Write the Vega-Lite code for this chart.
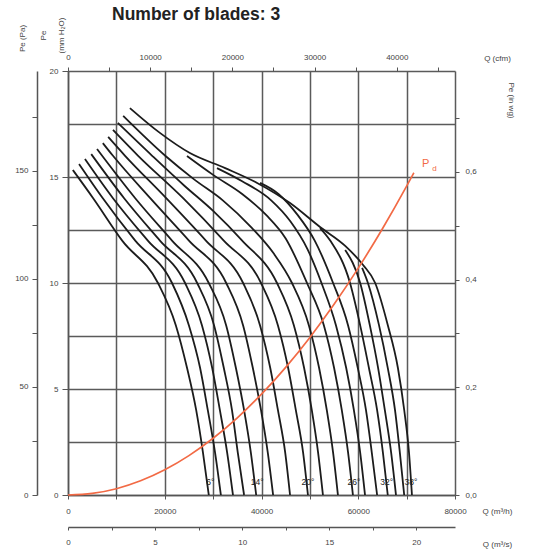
{
"$schema":"https://vega.github.io/schema/vega-lite/v6.json",
"width":387,"height":424,
"autosize":{"type":"none"},
"padding":{"left":68,"top":71,"right":80,"bottom":55},
"title":{"text":"Number of blades: 3","anchor":"start","frame":"group","dx":44,"fontSize":17.5,"fontWeight":"bold","font":"Liberation Sans","color":"#222","offset":-6},
"config":{"view":{"stroke":null},"font":"Liberation Sans",
"axis":{"labelFont":"Liberation Sans","labelFontSize":8,"labelColor":"#444","titleFont":"Liberation Sans","titleFontSize":8,"titleFontWeight":"normal","titleColor":"#444","domainColor":"#555","tickColor":"#555","labelFlush":false,"labelOverlap":false}},
"datasets":{
"curves":[
{"a":6,"q":1000,"p":15.33},{"a":6,"q":5200,"p":14},{"a":6,"q":11200,"p":12},{"a":6,"q":18600,"p":10},{"a":6,"q":22300,"p":8},{"a":6,"q":24600,"p":6},{"a":6,"q":26500,"p":4},{"a":6,"q":27900,"p":2},{"a":6,"q":29100,"p":0},
{"a":8,"q":2300,"p":15.61},{"a":8,"q":7200,"p":14},{"a":8,"q":13900,"p":12},{"a":8,"q":21500,"p":10},{"a":8,"q":25000,"p":8},{"a":8,"q":27300,"p":6},{"a":8,"q":28900,"p":4},{"a":8,"q":30400,"p":2},{"a":8,"q":31600,"p":0},
{"a":10,"q":3500,"p":15.85},{"a":10,"q":9300,"p":14},{"a":10,"q":16500,"p":12},{"a":10,"q":24200,"p":10},{"a":10,"q":27700,"p":8},{"a":10,"q":29800,"p":6},{"a":10,"q":31400,"p":4},{"a":10,"q":32900,"p":2},{"a":10,"q":34100,"p":0},
{"a":12,"q":4800,"p":16.08},{"a":12,"q":11600,"p":14},{"a":12,"q":19000,"p":12},{"a":12,"q":26700,"p":10},{"a":12,"q":30200,"p":8},{"a":12,"q":32200,"p":6},{"a":12,"q":33900,"p":4},{"a":12,"q":35100,"p":2},{"a":12,"q":36400,"p":0},
{"a":14,"q":6000,"p":16.32},{"a":14,"q":13900,"p":14},{"a":14,"q":21500,"p":12},{"a":14,"q":29100,"p":10},{"a":14,"q":32700,"p":8},{"a":14,"q":34700,"p":6},{"a":14,"q":36400,"p":4},{"a":14,"q":37800,"p":2},{"a":14,"q":38900,"p":0},
{"a":16,"q":7200,"p":16.6},{"a":16,"q":9300,"p":16},{"a":16,"q":17000,"p":14},{"a":16,"q":25000,"p":12},{"a":16,"q":32700,"p":10},{"a":16,"q":36200,"p":8},{"a":16,"q":38200,"p":6},{"a":16,"q":39900,"p":4},{"a":16,"q":41300,"p":2},{"a":16,"q":42400,"p":0},
{"a":18,"q":8300,"p":16.89},{"a":18,"q":11800,"p":16},{"a":18,"q":20300,"p":14},{"a":18,"q":28500,"p":12},{"a":18,"q":36200,"p":10},{"a":18,"q":39700,"p":8},{"a":18,"q":41800,"p":6},{"a":18,"q":43400,"p":4},{"a":18,"q":44900,"p":2},{"a":18,"q":45900,"p":0},
{"a":20,"q":9300,"p":17.22},{"a":20,"q":14500,"p":16},{"a":20,"q":23800,"p":14},{"a":20,"q":32200,"p":12},{"a":20,"q":39900,"p":10},{"a":20,"q":43400,"p":8},{"a":20,"q":45500,"p":6},{"a":20,"q":47100,"p":4},{"a":20,"q":48600,"p":2},{"a":20,"q":49600,"p":0},
{"a":22,"q":10300,"p":17.55},{"a":22,"q":17400,"p":16},{"a":22,"q":24000,"p":14.6},{"a":22,"q":30000,"p":13.4},{"a":22,"q":36000,"p":12},{"a":22,"q":43200,"p":10},{"a":22,"q":46700,"p":8},{"a":22,"q":48800,"p":6},{"a":22,"q":50400,"p":4},{"a":22,"q":51700,"p":2},{"a":22,"q":52700,"p":0},
{"a":24,"q":11400,"p":17.88},{"a":24,"q":20100,"p":16},{"a":24,"q":26000,"p":14.9},{"a":24,"q":32000,"p":13.9},{"a":24,"q":38000,"p":12.6},{"a":24,"q":42500,"p":11.4},{"a":24,"q":46300,"p":10},{"a":24,"q":49800,"p":8},{"a":24,"q":51900,"p":6},{"a":24,"q":53500,"p":4},{"a":24,"q":54800,"p":2},{"a":24,"q":55800,"p":0},
{"a":26,"q":24600,"p":15.99},{"a":26,"q":30000,"p":15.1},{"a":26,"q":36000,"p":14.2},{"a":26,"q":41000,"p":13.2},{"a":26,"q":45000,"p":12.1},{"a":26,"q":49400,"p":10},{"a":26,"q":52900,"p":8},{"a":26,"q":55000,"p":6},{"a":26,"q":56600,"p":4},{"a":26,"q":57900,"p":2},{"a":26,"q":58900,"p":0},
{"a":28,"q":30800,"p":15.42},{"a":28,"q":36000,"p":14.8},{"a":28,"q":42000,"p":13.9},{"a":28,"q":46000,"p":12.9},{"a":28,"q":49500,"p":11.6},{"a":28,"q":52400,"p":10},{"a":28,"q":55400,"p":8},{"a":28,"q":57500,"p":6},{"a":28,"q":59100,"p":4},{"a":28,"q":60400,"p":2},{"a":28,"q":61400,"p":0},
{"a":30,"q":39700,"p":14.72},{"a":30,"q":43500,"p":14.2},{"a":30,"q":47500,"p":13.2},{"a":30,"q":51000,"p":12},{"a":30,"q":54800,"p":10},{"a":30,"q":57900,"p":8},{"a":30,"q":59900,"p":6},{"a":30,"q":61600,"p":4},{"a":30,"q":62800,"p":2},{"a":30,"q":63900,"p":0},
{"a":32,"q":52100,"p":12.59},{"a":32,"q":54200,"p":12},{"a":32,"q":58300,"p":10},{"a":32,"q":60400,"p":8},{"a":32,"q":62200,"p":6},{"a":32,"q":63900,"p":4},{"a":32,"q":65100,"p":2},{"a":32,"q":66100,"p":0},
{"a":34,"q":57300,"p":11.56},{"a":34,"q":60400,"p":10},{"a":34,"q":62400,"p":8},{"a":34,"q":64100,"p":6},{"a":34,"q":65500,"p":4},{"a":34,"q":66800,"p":2},{"a":34,"q":67800,"p":0},
{"a":36,"q":60800,"p":10.71},{"a":36,"q":62000,"p":10},{"a":36,"q":64300,"p":8},{"a":36,"q":66100,"p":6},{"a":36,"q":67600,"p":4},{"a":36,"q":68600,"p":2},{"a":36,"q":69500,"p":0},
{"a":38,"q":12800,"p":18.25},{"a":38,"q":19000,"p":17.08},{"a":38,"q":25200,"p":16.13},{"a":38,"q":32500,"p":15.42},{"a":38,"q":39100,"p":14.72},{"a":38,"q":45900,"p":13.77},{"a":38,"q":52100,"p":12.64},{"a":38,"q":57300,"p":11.75},{"a":38,"q":61000,"p":10.85},{"a":38,"q":63500,"p":10},{"a":38,"q":66100,"p":8.02},{"a":38,"q":68200,"p":5.99},{"a":38,"q":69500,"p":4.01},{"a":38,"q":70500,"p":1.98},{"a":38,"q":71100,"p":0}
],
"pd":[
{"q":0,"p":0},{"q":5000,"p":0.074},{"q":10000,"p":0.297},{"q":15000,"p":0.669},{"q":20000,"p":1.189},{"q":25000,"p":1.858},{"q":30000,"p":2.676},{"q":35000,"p":3.642},{"q":40000,"p":4.757},{"q":45000,"p":6.021},{"q":50000,"p":7.433},{"q":55000,"p":8.994},{"q":60000,"p":10.70},{"q":65000,"p":12.56},{"q":70000,"p":14.57},{"q":71500,"p":15.2}
],
"angles":[
{"q":29400,"p":0.62,"t":"6°"},{"q":39100,"p":0.62,"t":"14°"},{"q":49600,"p":0.62,"t":"20°"},{"q":59100,"p":0.62,"t":"26°"},{"q":65900,"p":0.62,"t":"32°"},{"q":70900,"p":0.62,"t":"38°"}
],
"pdlabel":[
{"q":73200,"p":15.6,"t":"P","s":11},{"q":75300,"p":15.4,"t":"d","s":8}
],
"ax1":[{"cfm":0,"inwg":0},{"cfm":47086,"inwg":0.7874}],
"ax2":[{"m3s":0,"pa":0},{"m3s":22.222,"pa":196.13}]
},
"layer":[
{"layer":[
 {"data":{"name":"curves"},"mark":{"type":"line","interpolate":"monotone","color":"#1c1c1c","strokeWidth":1.8},
  "encoding":{
   "x":{"field":"q","type":"quantitative","scale":{"domain":[0,80000],"nice":false,"zero":false},
     "axis":{"orient":"bottom","values":[0,10000,20000,30000,40000,50000,60000,70000,80000],"format":"d","grid":true,"gridColor":"#5a5a5a","gridWidth":1.5,"gridOpacity":1,"labelExpr":"datum.value % 20000 == 0 ? datum.label : ''","tickSize":4,"labelPadding":8,"domainWidth":1.5,"title":"Q (m³/h)","titleX":429,"titleY":16,"titleAlign":"center","titleBaseline":"middle","titleAngle":0}},
   "y":{"field":"p","type":"quantitative","scale":{"domain":[0,20],"nice":false},
     "axis":{"orient":"left","values":[0,2.5,5,7.5,10,12.5,15,17.5,20],"grid":true,"gridColor":"#5a5a5a","gridWidth":1.5,"gridOpacity":1,"labelExpr":"datum.value % 5 == 0 ? datum.label : ''","tickOpacity":{"condition":{"test":"datum.value % 5 == 0","value":1},"value":0},"tickSize":6,"labelPadding":4,"domainWidth":1.5,"title":["Pe","(mm H₂O)"],"titleAngle":-90,"titleX":-25,"titleY":-36,"titleAlign":"center","titleBaseline":"middle","titleLineHeight":18}},
   "detail":{"field":"a","type":"nominal"}}},
 {"data":{"name":"pd"},"mark":{"type":"line","interpolate":"monotone","color":"#f26a45","strokeWidth":1.7},
  "encoding":{"x":{"field":"q","type":"quantitative"},"y":{"field":"p","type":"quantitative"}}},
 {"data":{"name":"angles"},"mark":{"type":"text","fontSize":8.5,"color":"#222","font":"Liberation Sans"},
  "encoding":{"x":{"field":"q","type":"quantitative"},"y":{"field":"p","type":"quantitative"},"text":{"field":"t"}}},
 {"data":{"name":"pdlabel"},"mark":{"type":"text","color":"#f26a45","font":"Liberation Sans","align":"left"},
  "encoding":{"x":{"field":"q","type":"quantitative"},"y":{"field":"p","type":"quantitative"},"text":{"field":"t"},"size":{"field":"s","type":"quantitative","scale":null}}}
]},
{"data":{"name":"ax1"},"mark":{"type":"point","opacity":0},
 "encoding":{
  "x":{"field":"cfm","type":"quantitative","scale":{"domain":[0,47086],"nice":false,"zero":false},
    "axis":{"orient":"top","values":[0,5000,10000,15000,20000,25000,30000,35000,40000,45000],"format":"d","labelExpr":"datum.value % 10000 == 0 ? datum.label : ''","domain":false,"grid":false,"tickSize":4,"labelPadding":6,"title":"Q (cfm)","titleX":429,"titleY":-13,"titleAlign":"center","titleBaseline":"middle"}},
  "y":{"field":"inwg","type":"quantitative","scale":{"domain":[0,0.7874],"nice":false},
    "axis":{"orient":"right","values":[0,0.1,0.2,0.3,0.4,0.5,0.6,0.7],"labelExpr":"round(datum.value*10) % 2 == 0 ? replace(format(datum.value,'.1f'),'.',',') : ''","domain":false,"grid":false,"tickSize":4,"labelPadding":6,"title":"Pe (in wg)","titleAngle":90,"titleX":55,"titleY":29,"titleAlign":"center","titleBaseline":"middle"}}}},
{"data":{"name":"ax2"},"mark":{"type":"point","opacity":0},
 "encoding":{
  "x":{"field":"m3s","type":"quantitative","scale":{"domain":[0,22.222],"nice":false,"zero":false},
    "axis":{"orient":"bottom","offset":32,"values":[0,2.5,5,7.5,10,12.5,15,17.5,20],"labelExpr":"datum.value % 5 == 0 ? datum.label : ''","grid":false,"tickSize":3,"labelPadding":8,"domainWidth":1.5,"title":"Q (m³/s)","titleX":429,"titleY":17,"titleAlign":"center","titleBaseline":"middle"}},
  "y":{"field":"pa","type":"quantitative","scale":{"domain":[0,196.13],"nice":false},
    "axis":{"orient":"left","offset":31,"values":[0,25,50,75,100,125,150,175],"labelExpr":"datum.value % 50 == 0 ? datum.label : ''","grid":false,"tickSize":5,"labelPadding":4,"domainWidth":1.5,"title":"Pe (Pa)","titleAngle":-90,"titleX":-15,"titleY":-33,"titleAlign":"center","titleBaseline":"middle"}}}}
],
"resolve":{"scale":{"x":"independent","y":"independent"},"axis":{"x":"independent","y":"independent"}}
}
